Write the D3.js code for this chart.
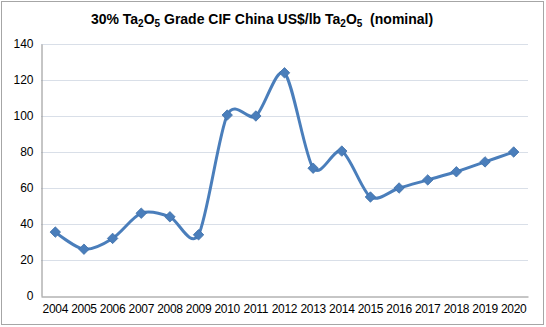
<!DOCTYPE html>
<html>
<head>
<meta charset="utf-8">
<script src="https://cdn.jsdelivr.net/npm/d3@7/dist/d3.min.js"></script>
<style>
  html, body { margin: 0; padding: 0; background: #fff; }
  svg { display: block; font-family: "Liberation Sans", Arial, sans-serif; }
</style>
</head>
<body>
<svg id="chart" width="546" height="327"></svg>
<script>
// Annual price series, 30% Ta2O5 concentrate, CIF China (US$/lb Ta2O5, nominal)
const years = ["2004","2005","2006","2007","2008","2009","2010","2011","2012",
               "2013","2014","2015","2016","2017","2018","2019","2020"];
const prices = [35.5, 26, 32, 46, 44, 34, 100.5, 100, 124,
                71, 80.5, 55, 60, 64.5, 69, 74.5, 80];
const yTicks = [0, 20, 40, 60, 80, 100, 120, 140];

const W = 546, H = 327;
const margin = { left: 41, right: 18, top: 44, bottom: 31 };
const svg = d3.select("#chart");

// Outer frame
svg.append("rect")
  .attr("x", 1.5).attr("y", 1.5)
  .attr("width", W - 4).attr("height", H - 4)
  .attr("fill", "#fff").attr("stroke", "#a6a6a6").attr("stroke-width", 1);

const x = d3.scaleBand().domain(years)
  .range([margin.left, W - margin.right]);
const y = d3.scaleLinear().domain([0, 140])
  .range([H - margin.bottom, margin.top]);

// Horizontal gridlines
svg.append("g").selectAll("line").data(yTicks.filter(d => d > 0)).join("line")
  .attr("x1", margin.left).attr("x2", W - margin.right)
  .attr("y1", d => Math.round(y(d)) + 0.5).attr("y2", d => Math.round(y(d)) + 0.5)
  .attr("stroke", "#d9dfe8").attr("stroke-width", 1);

// Y axis
const yAxis = svg.append("g")
  .attr("transform", `translate(${margin.left + 0.5},0)`)
  .call(d3.axisLeft(y).tickValues(yTicks).tickSize(0).tickPadding(8));
yAxis.select(".domain").attr("stroke", "#8c8c8c");
yAxis.selectAll("text").attr("font-size", 12).attr("fill", "#000")
  .attr("font-family", "'Liberation Sans', Arial, sans-serif");

// X axis
const xAxis = svg.append("g")
  .attr("transform", `translate(0,${Math.round(y(0)) + 0.5})`)
  .call(d3.axisBottom(x).tickSize(0).tickPadding(8));
xAxis.select(".domain").attr("stroke", "#8c8c8c");
xAxis.selectAll("text").attr("font-size", 12).attr("fill", "#000")
  .attr("letter-spacing", -0.3)
  .attr("font-family", "'Liberation Sans', Arial, sans-serif");

// Smoothed price line
const cx = d => x(d) + x.bandwidth() / 2;
const line = d3.line()
  .x((d, i) => cx(years[i]))
  .y(d => y(d))
  .curve(d3.curveCardinal.tension(0.15));

svg.append("path").datum(prices)
  .attr("d", line)
  .attr("fill", "none")
  .attr("stroke", "#4a7ebb")
  .attr("stroke-width", 3)
  .attr("stroke-linejoin", "round");

// Diamond markers
const diamond = d3.symbol().type(d3.symbolDiamond2).size(70);
svg.append("g").selectAll("path").data(prices).join("path")
  .attr("transform", (d, i) => `translate(${cx(years[i])},${y(d)})`)
  .attr("d", diamond)
  .attr("fill", "#4a7ebb")
  .attr("stroke", "#3d6ea8").attr("stroke-width", 0.8);

// Title with subscripts
const title = svg.append("text")
  .attr("x", 262).attr("y", 24)
  .attr("text-anchor", "middle")
  .attr("font-size", 14).attr("font-weight", "bold").attr("fill", "#000");
const parts = [
  ["30% Ta", 0], ["2", 1], ["O", 0], ["5", 1],
  [" Grade CIF China US$/lb Ta", 0], ["2", 1], ["O", 0], ["5", 1],
  ["\u00a0 (nominal)", 0]
];
parts.forEach(([t, sub], i) => {
  const prevSub = i > 0 ? parts[i - 1][1] : 0;
  const ts = title.append("tspan").text(t)
    .attr("dy", sub && !prevSub ? 3 : (!sub && prevSub ? -3 : 0));
  if (sub) ts.attr("font-size", 10);
});
</script>
</body>
</html>
